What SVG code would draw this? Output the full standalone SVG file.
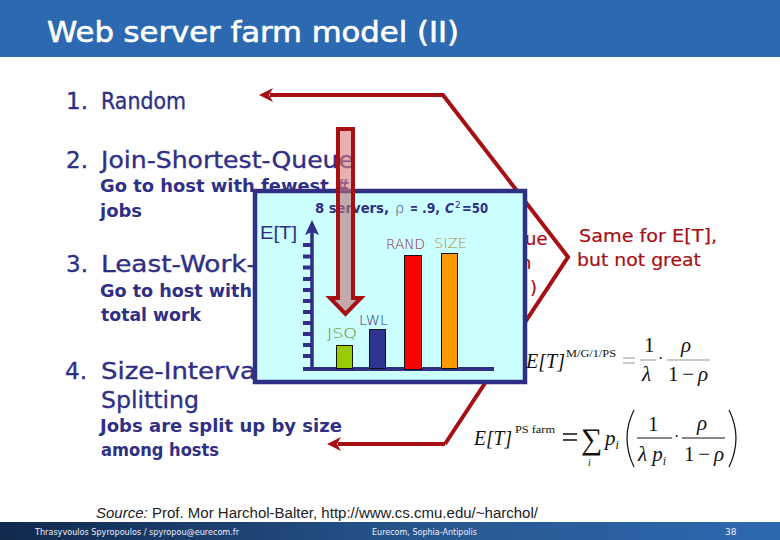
<svg xmlns="http://www.w3.org/2000/svg" width="780" height="540" viewBox="0 0 780 540">
<defs>
<linearGradient id="foot" x1="0" x2="1" y1="0" y2="0"><stop offset="0" stop-color="#10294d"/><stop offset="0.55" stop-color="#27578f"/><stop offset="1" stop-color="#2d69b0"/></linearGradient>
<linearGradient id="pink" gradientUnits="userSpaceOnUse" x1="0" y1="129" x2="0" y2="315"><stop offset="0.333" stop-color="#d97b7b"/><stop offset="0.333" stop-color="#be7072"/></linearGradient>
<marker id="head" markerUnits="userSpaceOnUse" markerWidth="16" markerHeight="16" refX="4" refY="8" orient="auto" viewBox="0 0 16 16"><path d="M15,8 L1,1 L5,8 L1,15 Z" fill="#a60f14"/></marker>
</defs>
<style>
.c{font-family:"Comic Sans MS","DejaVu Sans",sans-serif;}
.h{font-size:23px;fill:#2f3085;stroke:#2f3085;stroke-width:.35px;}
.s{font-size:18px;fill:#2f3085;font-weight:700;}
.r{fill:#a60f14;stroke:#a60f14;stroke-width:.2px;}
.b{font-size:14px;font-weight:200;}
.t{font-size:14.5px;fill:#2f3085;font-weight:700;}
.f{font-family:"Liberation Serif",serif;fill:#111;}
.l{fill:none;stroke:#a60f14;stroke-width:4;stroke-linejoin:miter;}
.foot{font-family:"DejaVu Sans",sans-serif;font-size:9px;fill:#eef;}
</style>
<rect width="780" height="540" fill="#fff"/>
<g id="header"><rect width="780" height="57" fill="#2d69b0"/>
<text class="c" x="47" y="42" font-size="28" fill="#fff" stroke="#fff" stroke-width=".6" textLength="412" lengthAdjust="spacingAndGlyphs">Web server farm model (II)</text></g>
<g id="list">
<text class="c h" x="66" y="109">1.</text><text class="c h" x="101" y="109" textLength="85" lengthAdjust="spacingAndGlyphs">Random</text>
<text class="c h" x="66" y="168">2.</text><text class="c h" x="101" y="168" textLength="253" lengthAdjust="spacingAndGlyphs">Join-Shortest-Queue</text>
<text class="c s" x="100" y="192" textLength="250" lengthAdjust="spacingAndGlyphs">Go to host with fewest #</text>
<text class="c s" x="100" y="217" textLength="42" lengthAdjust="spacingAndGlyphs">jobs</text>
<text class="c h" x="66" y="272">3.</text><text class="c h" x="101" y="272" textLength="155" lengthAdjust="spacingAndGlyphs">Least-Work-</text>
<text class="c s" x="100" y="297" textLength="152" lengthAdjust="spacingAndGlyphs">Go to host with</text>
<text class="c s" x="101" y="321" textLength="100" lengthAdjust="spacingAndGlyphs">total work</text>
<text class="c h" x="65" y="379">4.</text><text class="c h" x="101" y="379" textLength="155" lengthAdjust="spacingAndGlyphs">Size-Interva</text>
<text class="c h" x="101" y="408" textLength="98" lengthAdjust="spacingAndGlyphs">Splitting</text>
<text class="c s" x="100" y="432" textLength="242" lengthAdjust="spacingAndGlyphs">Jobs are split up by size</text>
<text class="c s" x="101" y="456" textLength="118" lengthAdjust="spacingAndGlyphs">among hosts</text>
</g>
<g id="connectors">
<polyline class="l" points="445,444 568,257 443,95 270,95" marker-end="url(#head)"/>
<polyline class="l" points="445,444 338,444" marker-end="url(#head)"/>
</g>
<g id="note-right">
<text class="c r" x="579" y="242" font-size="17.500" textLength="138" lengthAdjust="spacingAndGlyphs">Same for E[T],</text>
<text class="c r" x="577" y="266" font-size="17.500" textLength="124" lengthAdjust="spacingAndGlyphs">but not great</text>
<text class="c r" x="525" y="245" font-size="18">ue</text>
<text class="c r" x="520" y="269" font-size="18">n</text>
<text class="c r" x="530" y="294" font-size="18">)</text>
</g>
<g id="chart">
<rect x="255" y="191" width="270" height="191" fill="#ccffff" stroke="#2f3085" stroke-width="4.500"/>
<text class="c t" x="315" y="213" textLength="74" lengthAdjust="spacingAndGlyphs">8 servers,</text>
<text class="c t" x="395" y="213" style="font-weight:200">ρ</text>
<text class="c t" x="410" y="213" textLength="8" lengthAdjust="spacingAndGlyphs">=</text>
<text class="c t" x="422" y="213" textLength="18" lengthAdjust="spacingAndGlyphs">.9,</text>
<text class="c t" x="445" y="213" font-style="italic" textLength="9" lengthAdjust="spacingAndGlyphs">C</text>
<text class="c" x="455" y="208" font-size="9" fill="#2f3085">2</text>
<text class="c t" x="462" y="213" textLength="26" lengthAdjust="spacingAndGlyphs">=50</text>
<text x="260" y="239" font-family="Liberation Sans,sans-serif" font-size="18" fill="#2f3085" textLength="37" lengthAdjust="spacingAndGlyphs">E[T]</text>
<path d="M312,369 V228" stroke="#2f3085" stroke-width="3.500" fill="none"/>
<path d="M312,220 L319,235 L312,232 L305,235 Z" fill="#2f3085"/>
<path d="M303,245H312M303,256.500H312M303,267.500H312M303,279H312M303,290H312M303,301H312M303,312H312M303,323H312M303,334H312M303,345H312M303,356H312" stroke="#2f3085" stroke-width="4" fill="none"/>
<path d="M303,369 H494" stroke="#2f3085" stroke-width="4" fill="none"/>
<rect x="336.500" y="345.500" width="16" height="23" fill="#99cc00" stroke="#111"/>
<rect x="369.500" y="329.500" width="16" height="39" fill="#2f3390" stroke="#111"/>
<rect x="404.500" y="255.500" width="17" height="114" fill="#ff0000" stroke="#111"/>
<rect x="441.500" y="253.500" width="16" height="115" fill="#ff9900" stroke="#111"/>
<text class="c b" x="327" y="338" fill="#5a8a10" textLength="30" lengthAdjust="spacingAndGlyphs">JSQ</text>
<text class="c b" x="359" y="325" fill="#2f3085" textLength="29" lengthAdjust="spacingAndGlyphs">LWL</text>
<text class="c b" x="386" y="249" fill="#8f2030" textLength="39" lengthAdjust="spacingAndGlyphs">RAND</text>
<text class="c b" x="434" y="248" fill="#b8862c" textLength="33" lengthAdjust="spacingAndGlyphs">SIZE</text>
</g>
<g id="arrow-down">
<path d="M338,129 H353 V298 H361 L345.500,314 L330,298 H338 Z" fill="url(#pink)" fill-opacity=".6" stroke="#a60f14" stroke-width="4" stroke-linejoin="miter"/>
</g>
<g id="formula1" class="f">
<text x="526" y="368" font-size="22" font-style="italic" textLength="39" lengthAdjust="spacingAndGlyphs">E[T]</text>
<text x="566" y="357" font-size="10" textLength="50" lengthAdjust="spacingAndGlyphs">M/G/1/PS</text>
<path d="M623,358 H635 M623,363 H635 M640,360 H656 M667,360 H710" stroke="#bbb" stroke-width="1.500" fill="none"/>
<text x="644" y="352" font-size="21">1</text>
<text x="642" y="381" font-size="21" font-style="italic">λ</text>
<text x="658" y="364" font-size="16">·</text>
<text x="681" y="352" font-size="21" font-style="italic">ρ</text>
<text x="668" y="381" font-size="21" textLength="40" lengthAdjust="spacing">1−<tspan font-style="italic">ρ</tspan></text>
</g>
<g id="formula2" class="f">
<text x="474" y="445" font-size="22" font-style="italic" textLength="38" lengthAdjust="spacingAndGlyphs">E[T]</text>
<text x="515" y="433" font-size="10" textLength="40" lengthAdjust="spacingAndGlyphs">PS farm</text>
<path d="M563,434 H577 M563,440 H577" stroke="#111" stroke-width="1.300" fill="none"/>
<text x="581" y="449" font-size="30">∑</text>
<text x="588" y="466" font-size="10" font-style="italic">i</text>
<text x="605" y="445" font-size="21" font-style="italic">p<tspan font-size="12" dy="4">i</tspan></text>
<path d="M634,410 Q620,438 634,467 M729,410 Q743,438 729,467" stroke="#111" stroke-width="1.200" fill="none"/>
<text x="648" y="431" font-size="21">1</text>
<text x="638" y="461" font-size="21" font-style="italic">λ p<tspan font-size="12" dy="4">i</tspan></text>
<path d="M637,438 H672 M682,438 H725" stroke="#111" stroke-width="1.200" fill="none"/>
<text x="674" y="442" font-size="16">·</text>
<text x="697" y="430" font-size="21" font-style="italic">ρ</text>
<text x="684" y="461" font-size="21" textLength="40" lengthAdjust="spacing">1−<tspan font-style="italic">ρ</tspan></text>
</g>
<g id="source"><text x="96" y="518" font-family="Liberation Sans,sans-serif" font-size="14" fill="#222" textLength="442" lengthAdjust="spacingAndGlyphs"><tspan font-style="italic">Source:</tspan> Prof. Mor Harchol-Balter, http://www.cs.cmu.edu/~harchol/</text></g>
<g id="footer"><rect y="522" width="780" height="18" fill="url(#foot)"/>
<text class="foot" x="35" y="535" textLength="204" lengthAdjust="spacingAndGlyphs">Thrasyvoulos Spyropoulos / spyropou@eurecom.fr</text>
<text class="foot" x="372" y="535" textLength="105" lengthAdjust="spacingAndGlyphs">Eurecom, Sophia-Antipolis</text>
<text class="foot" x="725" y="535">38</text></g>
</svg>
